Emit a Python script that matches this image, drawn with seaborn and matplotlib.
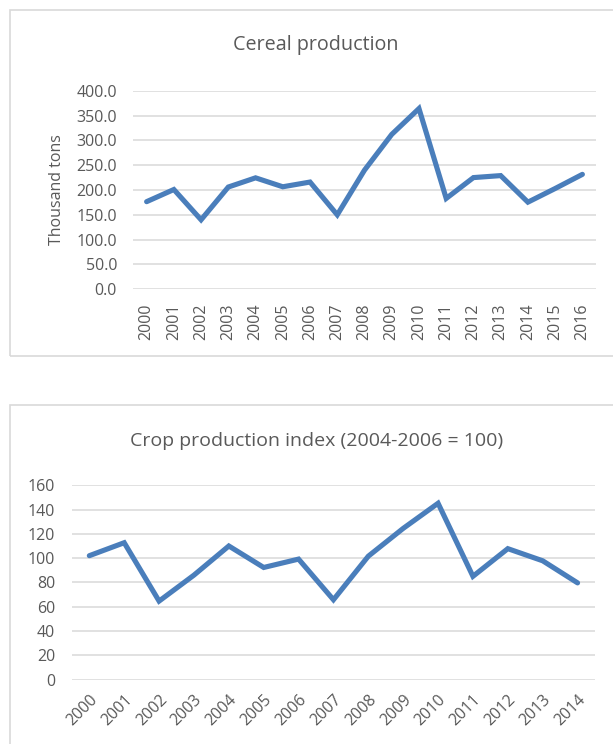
import matplotlib
matplotlib.use("Agg")
import matplotlib.pyplot as plt
from matplotlib.patches import Rectangle
import seaborn as sns
import pandas as pd

# ---- data ----
cereal_years = [str(y) for y in range(2000, 2017)]
cereal_values = [176.5, 201, 140, 206, 224.5, 206.5, 216, 150, 240, 312, 364,
                 183, 225, 229, 175.5, 203, 231.5]

crop_years = [str(y) for y in range(2000, 2015)]
crop_index = [102, 112.7, 64.6, 86, 110, 92.3, 99.2, 65.7, 101.6, 124.5, 145.2,
              85, 107.8, 97.8, 79.6]

cereal_yticks = [0, 50, 100, 150, 200, 250, 300, 350, 400]
crop_yticks = [0, 20, 40, 60, 80, 100, 120, 140, 160]

title_top = "Cereal production"
ylabel_top = "Thousand tons"
title_bottom = "Crop production index (2004-2006 = 100)"

# ---- style ----
sns.set_theme(style="white")
plt.rcParams["font.family"] = ["Open Sans", "DejaVu Sans"]
TXT = "#595959"
GRID = "#D9D9D9"
LINE = "#4A7EBB"

W, H = 613, 744
fig = plt.figure(figsize=(W / 100, H / 100), dpi=100)

# panel borders (figure coords)
def panel(x0, y0, x1, y1):
    r = Rectangle((x0 / W, 1 - y1 / H), (x1 - x0) / W, (y1 - y0) / H,
                  transform=fig.transFigure, fill=False, edgecolor=GRID,
                  linewidth=1.2, clip_on=False)
    fig.patches.append(r)

panel(10, 10, 640, 356)
panel(10, 405, 640, 780)

def style_axes(ax, yticks, fmt):
    ax.set_yticks(yticks)
    ax.set_yticklabels([fmt.format(v) for v in yticks])
    ax.set_ylim(yticks[0], yticks[-1])
    ax.grid(axis="y", color=GRID, linewidth=1.1)
    ax.grid(axis="x", visible=False)
    for s in ax.spines.values():
        s.set_visible(False)
    ax.set_axisbelow(True)
    ax.tick_params(axis="both", length=0, colors=TXT, labelsize=11.5)

# ---- top chart ----
ax1 = fig.add_axes([133 / W, 1 - 289.3 / H, (596 - 133) / W, (289.3 - 90.7) / H])
df1 = pd.DataFrame({"year": cereal_years, "value": cereal_values})
sns.lineplot(data=df1, x="year", y="value", ax=ax1, color=LINE, linewidth=3.7,
             solid_joinstyle="miter", sort=False)
style_axes(ax1, cereal_yticks, "{:.1f}")
ax1.set_xlim(-0.5, len(cereal_years) - 0.5)
ax1.tick_params(axis="y", pad=11.5)
ax1.tick_params(axis="x", pad=10, rotation=90)
ax1.set_xlabel("")
ax1.set_ylabel(ylabel_top, color=TXT, fontsize=11.5)
ax1.yaxis.set_label_coords(-0.147, 0.5)
fig.text(316 / W, 1 - 45 / H, title_top, ha="center", va="center",
         color=TXT, fontsize=14.2)

# ---- bottom chart ----
ax2 = fig.add_axes([71.9 / W, 1 - 679.5 / H, (595 - 71.9) / W, (679.5 - 485.3) / H])
df2 = pd.DataFrame({"year": crop_years, "value": crop_index})
sns.lineplot(data=df2, x="year", y="value", ax=ax2, color=LINE, linewidth=3.7,
             solid_joinstyle="miter", sort=False)
style_axes(ax2, crop_yticks, "{:.0f}")
ax2.set_xlim(-0.5, len(crop_years) - 0.5)
ax2.tick_params(axis="y", pad=12)
ax2.tick_params(axis="x", pad=9)
for lab in ax2.get_xticklabels():
    lab.set_rotation(45)
    lab.set_ha("right")
    lab.set_va("top")
    lab.set_rotation_mode("anchor")
ax2.set_xlabel("")
ax2.set_ylabel("")
fig.text(317 / W, 1 - 441 / H, title_bottom, ha="center", va="center",
         color=TXT, fontsize=14)

fig.savefig("out.png", dpi=100, facecolor="white")
